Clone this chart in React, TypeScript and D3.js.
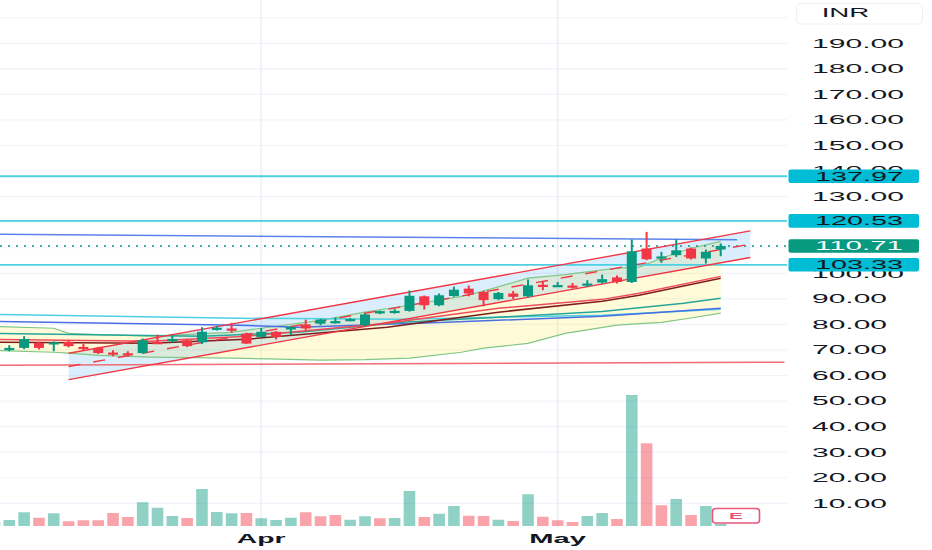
import * as d3 from 'd3';

// every per-bar array starts at this bar index
const FIRST_BAR = -1;

const opens = [71.0, 70.5, 70.8, 72.8, 72.6, 73.2, 71.2, 70.8, 69.0, 68.7, 68.8, 73.1, 73.9, 73.8, 73.0, 78.3, 78.4, 76.4, 75.1, 77.1, 78.0, 80.0, 80.3, 81.0, 81.7, 79.7, 84.3, 84.7, 85.3, 91.0, 87.5, 91.1, 94.0, 92.7, 89.9, 92.1, 91.0, 95.5, 95.1, 95.2, 95.6, 96.4, 98.4, 96.6, 109.7, 106.2, 107.1, 109.7, 105.8, 109.3];
const highs = [72.0, 71.9, 75.4, 73.2, 73.3, 73.8, 72.5, 71.2, 69.9, 69.5, 74.5, 76.0, 75.7, 74.2, 78.9, 79.4, 80.6, 76.8, 78.6, 77.4, 79.3, 81.9, 82.2, 82.7, 82.5, 84.3, 85.4, 86.0, 93.3, 91.3, 92.1, 94.8, 95.2, 93.2, 92.7, 93.1, 97.6, 97.0, 96.6, 96.2, 97.3, 99.5, 99.2, 113.2, 116.2, 108.4, 113.3, 110.1, 109.3, 111.7];
const lows = [70.5, 69.5, 70.3, 70.2, 69.5, 71.0, 69.9, 68.4, 67.5, 67.8, 68.6, 72.5, 73.0, 71.1, 72.3, 77.6, 76.7, 72.4, 74.9, 74.1, 75.8, 77.7, 79.7, 80.3, 81.2, 79.3, 84.0, 84.2, 85.0, 85.8, 87.1, 90.8, 91.0, 87.1, 89.5, 89.9, 90.6, 93.4, 94.9, 94.0, 94.7, 96.0, 96.0, 96.2, 105.1, 104.1, 106.4, 105.4, 103.8, 106.7];
const closes = [71.4, 70.8, 74.3, 70.8, 73.0, 71.5, 70.6, 68.8, 68.6, 68.3, 73.8, 72.6, 74.3, 71.5, 77.1, 78.7, 77.5, 72.5, 77.1, 75.1, 79.0, 78.4, 81.9, 81.3, 82.1, 83.9, 85.2, 85.3, 91.2, 87.5, 91.4, 93.6, 92.1, 89.5, 92.3, 90.8, 95.3, 95.1, 95.4, 94.8, 96.0, 97.7, 96.6, 108.6, 105.5, 106.6, 109.0, 105.8, 108.4, 110.71];
const volumes = [1.7, 2.4, 5.5, 3.3, 5.1, 1.9, 2.3, 2.3, 5.2, 3.6, 9.5, 7.3, 4.0, 3.2, 14.8, 5.6, 5.1, 5.2, 3.1, 2.4, 3.3, 5.5, 3.9, 4.4, 2.5, 3.9, 3.1, 3.2, 14.0, 3.6, 4.9, 8.0, 4.1, 4.0, 2.5, 2.0, 12.7, 3.7, 2.3, 1.6, 4.0, 5.2, 2.8, 52.4, 33.1, 8.3, 10.8, 4.4, 8.0, 0.8];
const volumeUp = [1, 1, 1, 0, 1, 0, 0, 0, 0, 0, 1, 1, 1, 0, 1, 1, 1, 0, 1, 1, 1, 0, 0, 0, 1, 1, 0, 1, 1, 0, 1, 1, 0, 0, 1, 0, 1, 0, 0, 0, 1, 1, 0, 1, 0, 0, 1, 0, 1, 1];

const monthLabels = ['Apr', 'May'];
const monthBars = [17, 37];

const priceTicks = [190, 180, 170, 160, 150, 140, 130, 120, 110, 100, 90, 80, 70, 60, 50, 40, 30, 20, 10];
const gridPrices = [200, ...priceTicks];

const levelPrices = [137.97, 120.53, 103.33];
const lastPrice = 110.71;

// drawings: [bar, price]
const channelUpper: [number, number][] = [[4, 68.7], [50, 116.6]];
const channelLower: [number, number][] = [[4, 58.4], [50, 106.2]];
const trendTop: [number, number][] = [[-1.4, 115.3], [49.1, 113.1]];
const trendBottom: [number, number][] = [[-1.4, 64.0], [52.3, 65.2]];

// bollinger-style band
const bandBars = [-1.4, 3, 4, 6, 9.5, 15, 17.5, 21, 24, 27, 30.5, 32, 35, 37.5, 41, 42.5, 44, 46, 48];
const bandUpper = [79.3, 78.5, 76.5, 76.0, 75.4, 76.9, 78.9, 81.6, 84.8, 87.5, 91.0, 93.0, 98.1, 99.5, 102.0, 102.4, 105.9, 109.8, 112.5];
const bandLower = [69.9, 69.1, 68.8, 67.9, 67.2, 66.8, 66.5, 66.0, 66.2, 66.8, 69.1, 70.7, 72.6, 76.5, 79.7, 80.3, 80.8, 82.5, 84.4];

const maRed: [number, number][] = [[-1.4, 74.2], [9.5, 73.4], [16, 75.4], [25.5, 80.5], [33, 86.3], [40, 89.8], [42.5, 92.2], [48, 98.8]];
const maMaroon: [number, number][] = [[-1.4, 73.0], [9.5, 72.6], [16, 74.2], [25.5, 78.9], [33, 84.8], [40, 89.1], [42.5, 91.4], [48, 98.1]];
const maTeal: [number, number][] = [[-1.4, 76.5], [13, 75.4], [19.5, 76.9], [26.5, 80.8], [33, 82.8], [40, 85.1], [45.5, 88.3], [48, 90.2]];
const maCyan: [number, number][] = [[-1.4, 84.0], [15.5, 82.4], [26.5, 82.0], [33, 82.8], [40, 83.6], [48, 85.9]];
const maBlue: [number, number][] = [[-1.4, 81.2], [15.5, 79.7], [19.5, 78.9], [29.5, 80.8], [40, 83.2], [48, 86.3]];

const UP = '#089981';
const DOWN = '#f23645';
const PLOT_RIGHT = 787;

const x = d3.scaleLinear().domain([0, 48]).range([9.3, 720.7]);
const y = d3.scaleLinear().domain([10, 190]).range([503.3, 43.3]);
const vy = d3.scaleLinear().domain([0, 52.4]).range([526, 395]);

const line = d3.line<[number, number]>().x(d => x(d[0])).y(d => y(d[1]));
const band = d3.area<number>()
  .x((_, i) => x(bandBars[i]))
  .y0((_, i) => y(bandLower[i]))
  .y1((_, i) => y(bandUpper[i]));

const labelWidth = (s: string) => s.replace('.', '').length * 17 + 7;

export default function App() {
  const bars = closes.map((c, k) => ({
    bar: FIRST_BAR + k, o: opens[k], h: highs[k], l: lows[k], c,
  }));
  const channelMid: [number, number][] = channelUpper.map((d, k) => [d[0], (d[1] + channelLower[k][1]) / 2]);
  const channelPoly = [...channelUpper, ...channelLower.slice().reverse()];
  const font = '"Liberation Sans", Arial, sans-serif';

  return (
    <svg width={932} height={550} style={{ position: 'absolute', left: 0, top: 0, background: '#fff' }}>
      <defs>
        <clipPath id="plot"><rect x={0} y={0} width={PLOT_RIGHT} height={550} /></clipPath>
      </defs>

      <g clipPath="url(#plot)">
        {/* grid */}
        {gridPrices.map(p => (
          <line key={p} x1={0} x2={PLOT_RIGHT} y1={y(p)} y2={y(p)} stroke="#f0f3fa" strokeWidth={1.2} />
        ))}
        {monthBars.map(b => (
          <line key={b} x1={x(b)} x2={x(b)} y1={0} y2={528} stroke="#eceff4" strokeWidth={1.6} />
        ))}

        {/* volume */}
        {volumes.map((v, k) => (
          <rect key={k} x={x(FIRST_BAR + k) - 5.8} width={11.6} y={vy(v)} height={526 - vy(v)}
            fill={volumeUp[k] ? 'rgba(8,153,129,0.45)' : 'rgba(242,54,69,0.45)'} />
        ))}

        {/* band + channel fills */}
        <path d={band(bandUpper) ?? ''} fill="rgba(255,235,59,0.2)" />
        <path d={(line(channelPoly) ?? '') + 'Z'} fill="rgba(33,150,243,0.16)" />
        <path d={line(bandBars.map((b, k) => [b, bandUpper[k]] as [number, number])) ?? ''} fill="none" stroke="#81c784" strokeWidth={1.2} />
        <path d={line(bandBars.map((b, k) => [b, bandLower[k]] as [number, number])) ?? ''} fill="none" stroke="#81c784" strokeWidth={1.2} />

        {/* averages */}
        <path d={line(maCyan) ?? ''} fill="none" stroke="#4dd0e1" strokeWidth={1.5} />
        <path d={line(maBlue) ?? ''} fill="none" stroke="#4a6fe3" strokeWidth={1.5} />
        <path d={line(maTeal) ?? ''} fill="none" stroke="#26a69a" strokeWidth={1.5} />
        <path d={line(maMaroon) ?? ''} fill="none" stroke="#7f1d1d" strokeWidth={1.5} />
        <path d={line(maRed) ?? ''} fill="none" stroke="#ef4c5a" strokeWidth={1.5} />

        {/* levels */}
        <path d={line(trendTop) ?? ''} fill="none" stroke="#5b84ea" strokeWidth={1.5} />
        <path d={line(trendBottom) ?? ''} fill="none" stroke="#f26b75" strokeWidth={1.5} />
        {levelPrices.map(p => (
          <line key={p} x1={0} x2={PLOT_RIGHT} y1={y(p)} y2={y(p)} stroke="#4dd0e1" strokeWidth={1.8} />
        ))}
        <line x1={0} x2={PLOT_RIGHT} y1={y(lastPrice)} y2={y(lastPrice)} stroke={UP} strokeWidth={1.5} strokeDasharray="2 6" />

        {/* channel */}
        <path d={line(channelUpper) ?? ''} fill="none" stroke={DOWN} strokeWidth={1.4} />
        <path d={line(channelLower) ?? ''} fill="none" stroke={DOWN} strokeWidth={1.4} />
        <path d={line(channelMid) ?? ''} fill="none" stroke={DOWN} strokeWidth={1.4} strokeDasharray="12 13" />

        {/* candles */}
        {bars.map(b => {
          const col = b.c >= b.o ? UP : DOWN;
          const top = y(Math.max(b.o, b.c));
          const h = Math.max(y(Math.min(b.o, b.c)) - top, 2.2);
          return (
            <g key={b.bar}>
              <line x1={x(b.bar)} x2={x(b.bar)} y1={y(b.h)} y2={y(b.l)} stroke={col} strokeWidth={2} />
              <rect x={x(b.bar) - 5} width={10} y={top} height={h} fill={col} />
            </g>
          );
        })}
      </g>

      {/* price axis */}
      {priceTicks.map(p => {
        const s = p.toFixed(2);
        return (
          <text key={p} x={812} y={y(p) + 4.4} fontFamily={font} fontSize={12.5} fill="#131722"
            textLength={labelWidth(s)} lengthAdjust="spacingAndGlyphs">{s}</text>
        );
      })}
      {[...levelPrices.map(p => ({ p, bg: '#00bcd4', fg: '#131722' })), { p: lastPrice, bg: UP, fg: '#ffffff' }].map(t => (
        <g key={t.p}>
          <rect x={788.5} y={y(t.p) - 6.8} width={130.5} height={13.6} rx={2} fill={t.bg} />
          <text x={815} y={y(t.p) + 4.5} fontFamily={font} fontSize={12.5} fill={t.fg}
            textLength={88} lengthAdjust="spacingAndGlyphs">{t.p.toFixed(2)}</text>
        </g>
      ))}
      <rect x={796.5} y={3.5} width={126} height={20.5} rx={4} fill="#fff" stroke="#eef0f4" />
      <text x={821.7} y={17.3} fontFamily={font} fontSize={12} fill="#131722"
        textLength={47.7} lengthAdjust="spacingAndGlyphs">INR</text>

      {/* time axis */}
      {monthLabels.map((m, k) => (
        <text key={m} x={x(monthBars[k])} y={542.5} textAnchor="middle" fontFamily={font} fontSize={12}
          fontWeight="bold" fill="#131722" textLength={m === 'May' ? 56.7 : 48.7} lengthAdjust="spacingAndGlyphs">{m}</text>
      ))}

      {/* earnings marker */}
      <rect x={712.5} y={508.5} width={47} height={14.5} rx={3} fill="#fff" stroke="#e8577a" strokeWidth={1.6} />
      <text x={736} y={519} textAnchor="middle" fontFamily={font} fontSize={9} fontWeight="bold" fill="#e8577a"
        textLength={14} lengthAdjust="spacingAndGlyphs">E</text>
    </svg>
  );
}
